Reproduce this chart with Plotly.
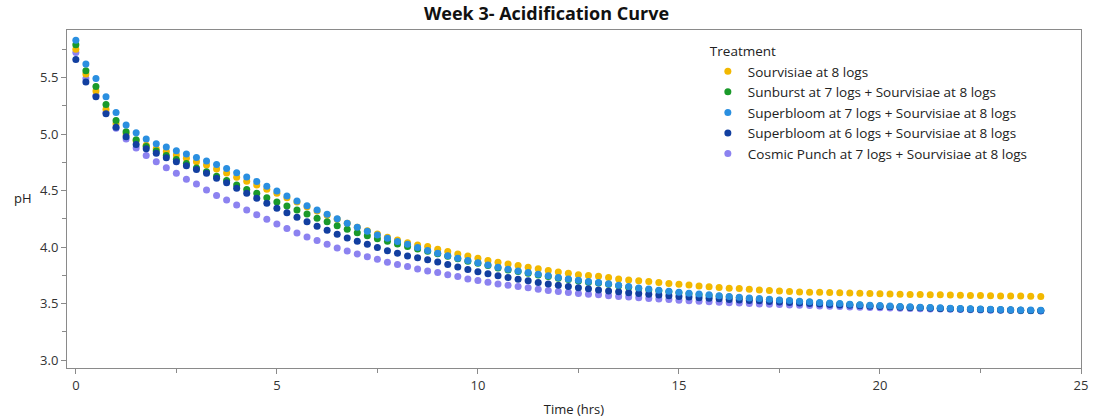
import plotly.graph_objects as go

time_hrs = [i / 4 for i in range(97)]

sourvisiae = [
    5.75, 5.53, 5.38, 5.22, 5.09, 5.00, 4.94, 4.90, 4.87, 4.846, 4.814, 4.785, 4.755, 4.725, 4.690, 4.655, 4.617,
    4.582, 4.549, 4.511, 4.475, 4.437, 4.398, 4.357, 4.319, 4.281, 4.246, 4.210, 4.175, 4.145, 4.116, 4.087, 4.063, 4.039, 4.018,
    4.004, 3.980, 3.960, 3.939, 3.921, 3.901, 3.880, 3.865, 3.851, 3.836, 3.821, 3.807, 3.792, 3.780, 3.768, 3.756, 3.748,
    3.742, 3.730, 3.718, 3.709, 3.701, 3.695, 3.686, 3.677, 3.671, 3.665, 3.656, 3.648, 3.642, 3.636, 3.633, 3.627, 3.621, 3.615, 3.612, 3.606, 3.603,
    3.601, 3.599, 3.597, 3.595, 3.593, 3.591, 3.589, 3.587, 3.585, 3.583, 3.581, 3.580, 3.578, 3.577, 3.575, 3.574, 3.572, 3.571, 3.570, 3.568, 3.567, 3.566, 3.564, 3.563,
]

sunburst7 = [
    5.79, 5.56, 5.42, 5.26, 5.12, 5.02, 4.95, 4.89, 4.85, 4.81, 4.775, 4.74, 4.70, 4.665, 4.627, 4.588, 4.548,
    4.510, 4.475, 4.437, 4.398, 4.363, 4.328, 4.292, 4.254, 4.224, 4.189, 4.157, 4.127, 4.101, 4.074, 4.051, 4.027, 4.004, 3.983,
    3.962, 3.940, 3.918, 3.896, 3.874, 3.856, 3.836, 3.815, 3.798, 3.783, 3.768, 3.753, 3.739, 3.724, 3.712, 3.700, 3.689,
    3.681, 3.670, 3.658, 3.645, 3.633, 3.623, 3.613, 3.604, 3.595, 3.587, 3.579, 3.572, 3.564, 3.557, 3.551, 3.545, 3.539, 3.533, 3.527, 3.522, 3.516,
    3.511, 3.506, 3.501, 3.496, 3.491, 3.487, 3.483, 3.479, 3.475, 3.471, 3.468, 3.465, 3.462, 3.459, 3.456, 3.454, 3.452, 3.449, 3.447, 3.445, 3.443, 3.441, 3.439, 3.438,
]

superbloom7 = [
    5.83, 5.62, 5.49, 5.33, 5.19, 5.08, 5.01, 4.955, 4.914, 4.884, 4.852, 4.823, 4.793, 4.762, 4.730, 4.695, 4.657,
    4.620, 4.580, 4.537, 4.496, 4.451, 4.407, 4.366, 4.328, 4.290, 4.251, 4.210, 4.175, 4.139, 4.107, 4.078, 4.050, 4.025, 3.995,
    3.970, 3.945, 3.924, 3.901, 3.880, 3.862, 3.842, 3.821, 3.804, 3.789, 3.774, 3.759, 3.745, 3.730, 3.718, 3.706, 3.695,
    3.686, 3.675, 3.663, 3.650, 3.638, 3.628, 3.618, 3.609, 3.600, 3.592, 3.584, 3.577, 3.569, 3.562, 3.556, 3.550, 3.544, 3.538, 3.532, 3.527, 3.521,
    3.515, 3.510, 3.505, 3.500, 3.495, 3.490, 3.486, 3.482, 3.478, 3.474, 3.471, 3.468, 3.465, 3.462, 3.459, 3.457, 3.455, 3.452, 3.450, 3.448, 3.446, 3.444, 3.442, 3.441,
]

superbloom6 = [
    5.66, 5.46, 5.33, 5.18, 5.06, 4.975, 4.908, 4.87, 4.829, 4.79, 4.755, 4.72, 4.687, 4.652, 4.608, 4.569, 4.520,
    4.475, 4.431, 4.387, 4.343, 4.304, 4.263, 4.224, 4.184, 4.148, 4.113, 4.080, 4.051, 4.025, 3.995, 3.968, 3.945, 3.921, 3.905,
    3.888, 3.868, 3.846, 3.824, 3.801, 3.781, 3.763, 3.746, 3.730, 3.715, 3.701, 3.687, 3.674, 3.662, 3.650, 3.639, 3.630,
    3.621, 3.612, 3.604, 3.596, 3.589, 3.582, 3.575, 3.569, 3.563, 3.557, 3.552, 3.547, 3.542, 3.537, 3.532, 3.528, 3.524, 3.519, 3.514, 3.509, 3.504,
    3.500, 3.496, 3.492, 3.488, 3.484, 3.480, 3.477, 3.474, 3.471, 3.468, 3.465, 3.462, 3.459, 3.457, 3.455, 3.452, 3.450, 3.448, 3.446, 3.444, 3.442, 3.440, 3.438, 3.436,
]

cosmic7 = [
    5.72, 5.49, 5.34, 5.19, 5.05, 4.955, 4.876, 4.81, 4.755, 4.702, 4.652, 4.599, 4.557, 4.505, 4.457, 4.416, 4.372,
    4.328, 4.286, 4.246, 4.204, 4.163, 4.125, 4.089, 4.057, 4.025, 3.992, 3.966, 3.939, 3.915, 3.892, 3.866, 3.845, 3.827, 3.806,
    3.789, 3.774, 3.754, 3.739, 3.718, 3.703, 3.689, 3.674, 3.662, 3.650, 3.639, 3.627, 3.615, 3.606, 3.597, 3.589, 3.583,
    3.577, 3.570, 3.563, 3.557, 3.551, 3.545, 3.540, 3.535, 3.530, 3.525, 3.520, 3.516, 3.512, 3.508, 3.504, 3.500, 3.497, 3.494, 3.491, 3.488, 3.485,
    3.482, 3.479, 3.476, 3.473, 3.470, 3.468, 3.465, 3.463, 3.461, 3.459, 3.457, 3.455, 3.453, 3.451, 3.449, 3.447, 3.445, 3.443, 3.441, 3.440, 3.438, 3.437, 3.436, 3.435,
]

series_names = [
    "Sourvisiae at 8 logs",
    "Sunburst at 7 logs + Sourvisiae at 8 logs",
    "Superbloom at 7 logs + Sourvisiae at 8 logs",
    "Superbloom at 6 logs + Sourvisiae at 8 logs",
    "Cosmic Punch at 7 logs + Sourvisiae at 8 logs",
]
series_values = [sourvisiae, sunburst7, superbloom7, superbloom6, cosmic7]
series_colors = ["#F2B800", "#1A9A2A", "#2A8FE0", "#123FA0", "#8C82F0"]

x_ticks = [0, 5, 10, 15, 20, 25]
y_ticks = [3.0, 3.5, 4.0, 4.5, 5.0, 5.5]

FONT = "Open Sans, Noto Sans, sans-serif"

fig = go.Figure()
# draw order: lavender first (bottom), then others
order = [4, 0, 1, 3, 2]
for k in order:
    fig.add_trace(go.Scatter(
        x=time_hrs, y=series_values[k], mode="markers", name=series_names[k],
        marker=dict(color=series_colors[k], size=7, line=dict(width=0)),
        legendrank=k + 1,
    ))

axis_common = dict(
    showline=True, linecolor="#8a8a8a", linewidth=1, mirror=True,
    showgrid=False, zeroline=False, ticks="outside", ticklen=5, tickcolor="#8a8a8a",
    tickfont=dict(family=FONT, size=13, color="#333333"), automargin=False,
)

fig.update_layout(
    width=1093, height=419,
    margin=dict(l=67, r=12, t=30, b=51),
    paper_bgcolor="white", plot_bgcolor="white",
    title=dict(text="<b>Week 3- Acidification Curve</b>", x=0.5, xanchor="center",
               y=1 - 14 / 419, yanchor="middle",
               font=dict(family=FONT, size=18, color="#111111")),
    xaxis=dict(range=[-0.22, 25], tickvals=x_ticks,
               title=dict(text="Time (hrs)", font=dict(family=FONT, size=13, color="#222222"), standoff=12),
               minor=dict(ticks="outside", ticklen=4, dtick=2.5, tick0=0, tickcolor="#8a8a8a"),
               **axis_common),
    yaxis=dict(range=[2.93, 5.92], tickvals=y_ticks, tickformat=".1f",
               minor=dict(ticks="outside", ticklen=4, dtick=0.25, tick0=3.0, tickcolor="#8a8a8a"),
               **axis_common),
    legend=dict(x=0.632, y=0.975, xanchor="left", yanchor="top",
                title=dict(text="Treatment", font=dict(family=FONT, size=13.5, color="#222222")),
                font=dict(family=FONT, size=13.5, color="#222222"),
                bgcolor="rgba(0,0,0,0)", itemwidth=30, tracegroupgap=0),
    showlegend=True,
    annotations=[dict(text="pH", showarrow=False,
                      font=dict(family=FONT, size=13, color="#222222"))],
)
# place pH annotation in pixel terms (horizontal label left of the axis)
fig.layout.annotations[0].update(x=-55 / 1014, y=(368 - 198) / 338, xref="paper", yref="paper",
                                 xanchor="left", yanchor="middle")

fig.write_html("out.html")
